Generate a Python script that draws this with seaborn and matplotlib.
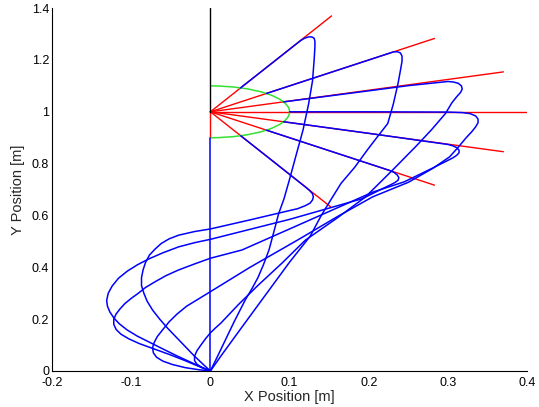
import matplotlib
matplotlib.use("Agg")
import matplotlib.pyplot as plt
from matplotlib.patches import Arc
from matplotlib.ticker import FormatStrFormatter
import seaborn as sns

# red target rays, all start at the centre (0, 1)
center = (0.0, 1.0)
ray_end_x = [0.153, 0.283, 0.370, 0.402, 0.370, 0.283, 0.152, 0.0]
ray_end_y = [1.370, 1.283, 1.154, 1.0, 0.846, 0.717, 0.633, 0.9]
circle_radius = 0.1

# black segment above the centre
black_x = [0.0, 0.0]
black_y = [1.0, 1.4]

# blue trajectories
vert_x = [0.0, 0.0]
vert_y = [0.0, 0.9]

t67_x = [0.038, 0.08, 0.114, 0.119, 0.124, 0.128, 0.131, 0.132, 0.132, 0.131, 0.129, 0.124,
         0.117, 0.108, 0.100, 0.093, 0.086, 0.080, 0.074, 0.067, 0.060, 0.052, 0.044, 0.030,
         0.019, 0.008, 0.0]
t67_y = [1.092, 1.193, 1.275, 1.284, 1.289, 1.289, 1.284, 1.272, 1.25, 1.20, 1.12, 1.03,
         0.93, 0.83, 0.74, 0.665, 0.605, 0.535, 0.467, 0.41, 0.36, 0.315, 0.274, 0.19,
         0.12, 0.05, 0.0]

t45_x = [0.0707, 0.15, 0.225, 0.231, 0.236, 0.240, 0.242, 0.242, 0.240, 0.237, 0.231, 0.224,
         0.210, 0.198, 0.182, 0.165, 0.152, 0.140, 0.126, 0.10, 0.07, 0.04, 0.015, 0.0]
t45_y = [1.0707, 1.15, 1.225, 1.231, 1.232, 1.227, 1.215, 1.195, 1.16, 1.11, 1.03, 0.955,
         0.90, 0.852, 0.785, 0.724, 0.66, 0.60, 0.52, 0.42, 0.295, 0.17, 0.065, 0.0]

t22_x = [0.0924, 0.2, 0.25, 0.30, 0.307, 0.313, 0.317, 0.318, 0.316, 0.311, 0.305, 0.297,
         0.279, 0.259, 0.23, 0.196, 0.16, 0.12, 0.09, 0.06, 0.035, 0.013, 0.006, 0.0, -0.006,
         -0.012, -0.017, -0.020, -0.020, -0.017, -0.010, 0.0]
t22_y = [1.0383, 1.081, 1.101, 1.117, 1.115, 1.11, 1.10, 1.088, 1.075, 1.058, 1.035, 0.994,
         0.93, 0.865, 0.775, 0.672, 0.59, 0.505, 0.415, 0.33, 0.255, 0.184, 0.165, 0.147, 0.125,
         0.10, 0.078, 0.057, 0.040, 0.026, 0.012, 0.0]

t0_x = [0.1, 0.2, 0.3, 0.318, 0.328, 0.335, 0.338, 0.338, 0.335, 0.330, 0.323, 0.312, 0.302,
        0.281, 0.25, 0.205, 0.16, 0.11, 0.05, 0.0, -0.015, -0.030, -0.042, -0.052, -0.060,
        -0.067, -0.071, -0.073, -0.072, -0.068, -0.060, -0.048, -0.032, -0.015, 0.0]
t0_y = [1.0, 1.0, 0.999, 0.997, 0.993, 0.984, 0.972, 0.958, 0.942, 0.923, 0.90, 0.86, 0.826,
        0.782, 0.728, 0.672, 0.595, 0.505, 0.40, 0.306, 0.278, 0.25, 0.22, 0.19, 0.16,
        0.133, 0.11, 0.09, 0.07, 0.053, 0.038, 0.025, 0.013, 0.005, 0.0]

tm22_x = [0.0924, 0.2, 0.30, 0.306, 0.311, 0.314, 0.314, 0.311, 0.306, 0.297, 0.28, 0.245,
          0.205, 0.12, 0.04, 0.0, -0.020, -0.040, -0.056, -0.070, -0.082, -0.091, -0.100,
          -0.108, -0.114, -0.119, -0.122, -0.122, -0.119, -0.113, -0.103, -0.090, -0.072,
          -0.052, -0.032, -0.014, 0.0]
tm22_y = [0.9617, 0.917, 0.874, 0.869, 0.862, 0.852, 0.842, 0.832, 0.822, 0.808, 0.782, 0.73,
          0.69, 0.575, 0.467, 0.435, 0.413, 0.39, 0.368, 0.344, 0.322, 0.30, 0.28, 0.26, 0.24,
          0.22, 0.20, 0.18, 0.16, 0.142, 0.124, 0.106, 0.086, 0.064, 0.04, 0.017, 0.0]

tm45_x = [0.0707, 0.15, 0.226, 0.232, 0.236, 0.238, 0.237, 0.233, 0.226, 0.215, 0.192, 0.1,
          0.0, -0.020, -0.040, -0.060, -0.078, -0.092, -0.105, -0.116, -0.124, -0.129,
          -0.131, -0.130, -0.127, -0.122, -0.115, -0.105, -0.092, -0.077, -0.060, -0.042,
          -0.025, -0.010, 0.0]
tm45_y = [0.9293, 0.85, 0.774, 0.766, 0.756, 0.746, 0.736, 0.727, 0.716, 0.70, 0.665, 0.585,
          0.508, 0.495, 0.479, 0.456, 0.432, 0.41, 0.385, 0.358, 0.328, 0.30, 0.272, 0.25,
          0.228, 0.205, 0.182, 0.158, 0.134, 0.111, 0.085, 0.058, 0.034, 0.013, 0.0]

tm67_x = [0.0383, 0.08, 0.12, 0.125, 0.129, 0.130, 0.129, 0.126, 0.120, 0.110, 0.10, 0.05,
          0.0, -0.020, -0.040, -0.052, -0.062, -0.070, -0.077, -0.082, -0.085, -0.087, -0.087,
          -0.084, -0.080, -0.073, -0.064, -0.054, -0.043, -0.032, -0.021, -0.010, 0.0]
tm67_y = [0.9076, 0.807, 0.71, 0.697, 0.684, 0.672, 0.66, 0.648, 0.638, 0.626, 0.619, 0.583,
          0.548, 0.538, 0.524, 0.51, 0.492, 0.47, 0.447, 0.418, 0.39, 0.36, 0.33, 0.30, 0.27,
          0.235, 0.20, 0.165, 0.13, 0.095, 0.06, 0.028, 0.0]

trajectories = [(vert_x, vert_y), (t67_x, t67_y), (t45_x, t45_y), (t22_x, t22_y),
                (t0_x, t0_y), (tm22_x, tm22_y), (tm45_x, tm45_y), (tm67_x, tm67_y)]

sns.set_style("white")
plt.rcParams['font.family'] = ['Liberation Sans', 'DejaVu Sans']

fig = plt.figure(figsize=(5.39, 4.07), dpi=100)
ax = fig.add_axes([0.0965, 0.0885, 0.8815, 0.8915])

# red rays
for ex, ey in zip(ray_end_x, ray_end_y):
    sns.lineplot(x=[center[0], ex], y=[center[1], ey], sort=False, estimator=None,
                 color='#ff0000', lw=1.0, ax=ax, zorder=2)

# green half circle
ax.add_patch(Arc(center, 2 * circle_radius, 2 * circle_radius, theta1=-90, theta2=90,
                 color='#33e033', lw=1.1, zorder=2.5))

# blue trajectories
for tx, ty in trajectories:
    sns.lineplot(x=tx, y=ty, sort=False, estimator=None, color='#0000ff', lw=1.1, ax=ax,
                 zorder=3)

sns.lineplot(x=black_x, y=black_y, sort=False, estimator=None, color='black', lw=1.0, ax=ax,
             zorder=3)

ax.set_xlim(-0.2, 0.4)
ax.set_ylim(0, 1.4)
ax.set_xticks([-0.2, -0.1, 0, 0.1, 0.2, 0.3, 0.4])
ax.set_yticks([0, 0.2, 0.4, 0.6, 0.8, 1.0, 1.2, 1.4])
ax.xaxis.set_major_formatter(FormatStrFormatter('%g'))
ax.yaxis.set_major_formatter(FormatStrFormatter('%g'))
ax.tick_params(direction='in', length=4, width=0.8, labelsize=9, colors='black')
ax.tick_params(axis='x', pad=4)
ax.tick_params(axis='y', pad=2)
for side in ['top', 'right']:
    ax.spines[side].set_visible(False)
for side in ['left', 'bottom']:
    ax.spines[side].set_color('black')
    ax.spines[side].set_linewidth(0.8)

ax.set_xlabel("X Position [m]", fontsize=10.5, labelpad=1)
ax.set_ylabel("Y Position [m]", fontsize=10.5, labelpad=5)

fig.savefig("out.png", dpi=100)
